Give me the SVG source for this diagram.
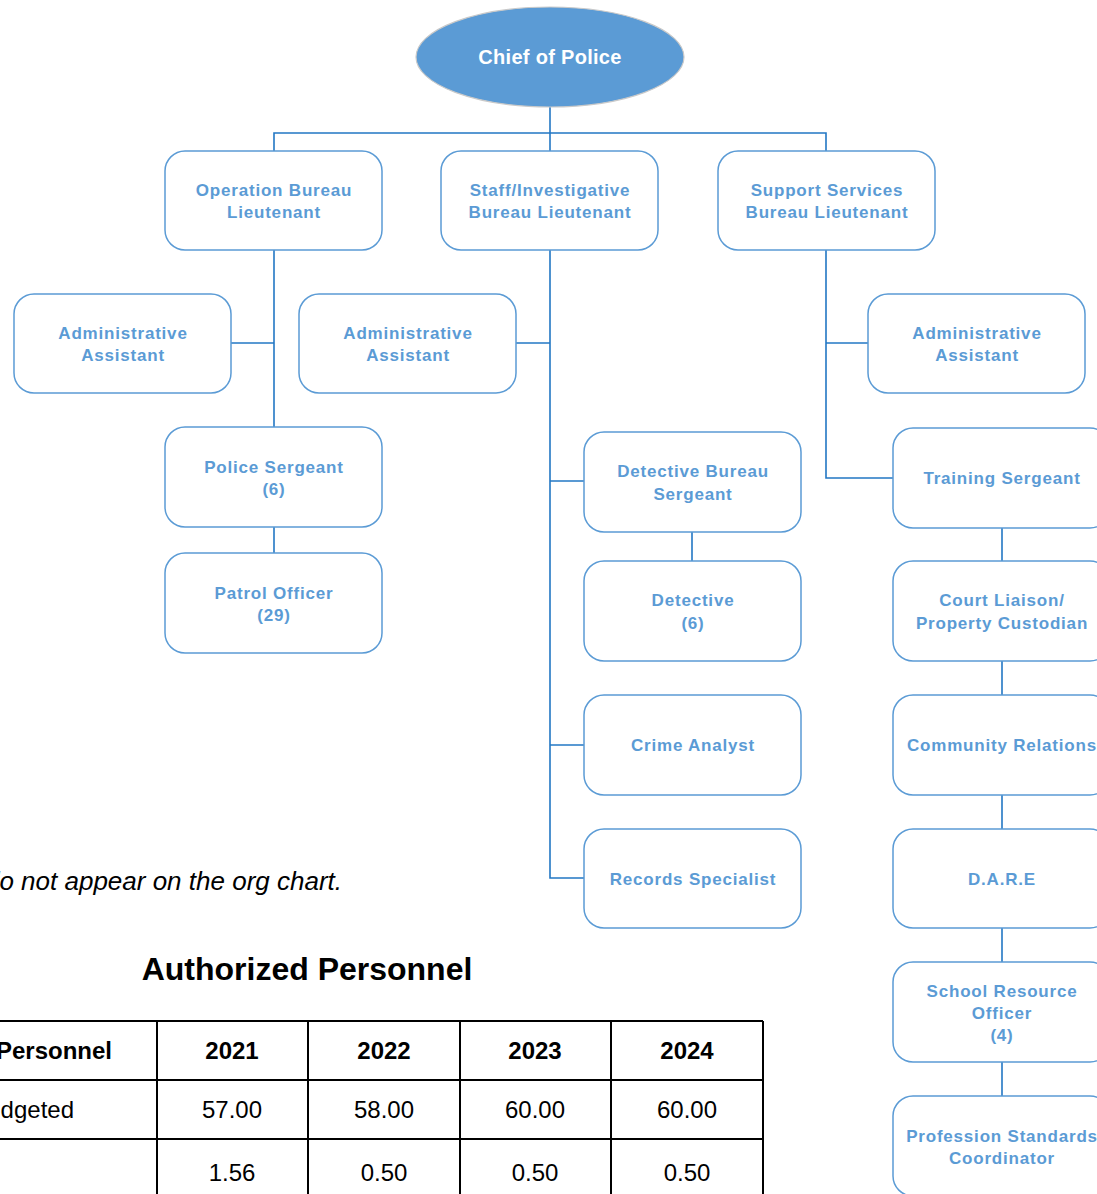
<svg xmlns="http://www.w3.org/2000/svg" width="1097" height="1194" viewBox="0 0 1097 1194">
  <style>
    .box { fill: #ffffff; stroke: #5b9bd5; stroke-width: 1.5; }
    .lbl { font-family: "Liberation Sans", Arial, sans-serif; font-weight: bold; font-size: 17px; letter-spacing: 0.8px; fill: #5b9bd5; text-anchor: middle; }
    .conn { stroke: #2277c4; stroke-width: 1.6; fill: none; }
    .note { font-family: "Liberation Sans", Arial, sans-serif; font-style: italic; font-size: 26px; fill: #000000; }
    .title { font-family: "Liberation Sans", Arial, sans-serif; font-weight: bold; font-size: 32px; fill: #000000; text-anchor: middle; }
    .th { font-family: "Liberation Sans", Arial, sans-serif; font-weight: bold; font-size: 24px; fill: #000000; text-anchor: middle; }
    .td { font-family: "Liberation Sans", Arial, sans-serif; font-size: 24px; fill: #000000; text-anchor: middle; }
    .grid { stroke: #000000; stroke-width: 2; fill: none; }
  </style>
  <rect x="0" y="0" width="1097" height="1194" fill="#ffffff"/>

  <!-- connectors -->
  <g id="connectors">
    <path class="conn" d="M550 107 V151"/>
    <path class="conn" d="M274 151 V133 H826 V151"/>
    <!-- operation bureau branch -->
    <path class="conn" d="M274 250 V427"/>
    <path class="conn" d="M231 343 H274"/>
    <path class="conn" d="M274 527 V553"/>
    <!-- staff / investigative branch -->
    <path class="conn" d="M550 250 V878 H584"/>
    <path class="conn" d="M516 343 H550"/>
    <path class="conn" d="M550 481 H584"/>
    <path class="conn" d="M550 745 H584"/>
    <path class="conn" d="M692 532 V561"/>
    <!-- support services branch -->
    <path class="conn" d="M826 250 V478 H893"/>
    <path class="conn" d="M826 343 H868"/>
    <path class="conn" d="M1002 528 V561"/>
    <path class="conn" d="M1002 661 V695"/>
    <path class="conn" d="M1002 795 V829"/>
    <path class="conn" d="M1002 928 V962"/>
    <path class="conn" d="M1002 1062 V1096"/>
  </g>

  <g id="chief">
    <ellipse cx="550" cy="57" rx="134" ry="50" fill="#5b9bd5" stroke="#c9c9c9" stroke-width="1.2"/>
    <text x="550" y="64" font-family="Liberation Sans, Arial, sans-serif" font-weight="bold" font-size="20" letter-spacing="0.3" fill="#ffffff" text-anchor="middle">Chief of Police</text>
  </g>

  <g id="operation-lt">
    <rect class="box" x="165" y="151" width="217" height="99" rx="20"/>
    <text class="lbl" x="274" y="196">Operation Bureau</text>
    <text class="lbl" x="274" y="218">Lieutenant</text>
  </g>
  <g id="staff-lt">
    <rect class="box" x="441" y="151" width="217" height="99" rx="20"/>
    <text class="lbl" x="550" y="196">Staff/Investigative</text>
    <text class="lbl" x="550" y="218">Bureau Lieutenant</text>
  </g>
  <g id="support-lt">
    <rect class="box" x="718" y="151" width="217" height="99" rx="20"/>
    <text class="lbl" x="827" y="196">Support Services</text>
    <text class="lbl" x="827" y="218">Bureau Lieutenant</text>
  </g>

  <g id="admin-ops">
    <rect class="box" x="14" y="294" width="217" height="99" rx="20"/>
    <text class="lbl" x="123" y="339">Administrative</text>
    <text class="lbl" x="123" y="361">Assistant</text>
  </g>
  <g id="admin-staff">
    <rect class="box" x="299" y="294" width="217" height="99" rx="20"/>
    <text class="lbl" x="408" y="339">Administrative</text>
    <text class="lbl" x="408" y="361">Assistant</text>
  </g>
  <g id="admin-support">
    <rect class="box" x="868" y="294" width="217" height="99" rx="20"/>
    <text class="lbl" x="977" y="339">Administrative</text>
    <text class="lbl" x="977" y="361">Assistant</text>
  </g>

  <g id="police-sergeant">
    <rect class="box" x="165" y="427" width="217" height="100" rx="20"/>
    <text class="lbl" x="274" y="473">Police Sergeant</text>
    <text class="lbl" x="274" y="495">(6)</text>
  </g>
  <g id="patrol-officer">
    <rect class="box" x="165" y="553" width="217" height="100" rx="20"/>
    <text class="lbl" x="274" y="599">Patrol Officer</text>
    <text class="lbl" x="274" y="621">(29)</text>
  </g>

  <g id="detective-sergeant">
    <rect class="box" x="584" y="432" width="217" height="100" rx="20"/>
    <text class="lbl" x="693" y="477">Detective Bureau</text>
    <text class="lbl" x="693" y="500">Sergeant</text>
  </g>
  <g id="detective">
    <rect class="box" x="584" y="561" width="217" height="100" rx="20"/>
    <text class="lbl" x="693" y="606">Detective</text>
    <text class="lbl" x="693" y="629">(6)</text>
  </g>
  <g id="crime-analyst">
    <rect class="box" x="584" y="695" width="217" height="100" rx="20"/>
    <text class="lbl" x="693" y="751">Crime Analyst</text>
  </g>
  <g id="records-specialist">
    <rect class="box" x="584" y="829" width="217" height="99" rx="20"/>
    <text class="lbl" x="693" y="885">Records Specialist</text>
  </g>

  <g id="training-sergeant">
    <rect class="box" x="893" y="428" width="217" height="100" rx="20"/>
    <text class="lbl" x="1002" y="484">Training Sergeant</text>
  </g>
  <g id="court-liaison">
    <rect class="box" x="893" y="561" width="217" height="100" rx="20"/>
    <text class="lbl" x="1002" y="606">Court Liaison/</text>
    <text class="lbl" x="1002" y="629">Property Custodian</text>
  </g>
  <g id="community-relations">
    <rect class="box" x="893" y="695" width="217" height="100" rx="20"/>
    <text class="lbl" x="1002" y="751">Community Relations</text>
  </g>
  <g id="dare">
    <rect class="box" x="893" y="829" width="217" height="99" rx="20"/>
    <text class="lbl" x="1002" y="885">D.A.R.E</text>
  </g>
  <g id="school-resource">
    <rect class="box" x="893" y="962" width="217" height="100" rx="20"/>
    <text class="lbl" x="1002" y="997">School Resource</text>
    <text class="lbl" x="1002" y="1019">Officer</text>
    <text class="lbl" x="1002" y="1041">(4)</text>
  </g>
  <g id="profession-standards">
    <rect class="box" x="893" y="1096" width="217" height="100" rx="20"/>
    <text class="lbl" x="1002" y="1142">Profession Standards</text>
    <text class="lbl" x="1002" y="1164">Coordinator</text>
  </g>

  <!-- footnote and personnel table -->
  <text class="note" x="342" y="890" text-anchor="end">do not appear on the org chart.</text>
  <text class="title" x="307" y="980">Authorized Personnel</text>

  <g id="personnel-table">
    <path class="grid" d="M-5 1021 H763 M-5 1080 H763 M-5 1139 H763"/>
    <path class="grid" d="M157 1021 V1194 M308 1021 V1194 M460 1021 V1194 M611 1021 V1194 M763 1021 V1194"/>
    <text class="th" x="-4" y="1059" style="text-anchor:start">Personnel</text>
    <text class="th" x="232" y="1059">2021</text>
    <text class="th" x="384" y="1059">2022</text>
    <text class="th" x="535" y="1059">2023</text>
    <text class="th" x="687" y="1059">2024</text>
    <text class="td" x="74" y="1118" style="text-anchor:end">Budgeted</text>
    <text class="td" x="232" y="1118">57.00</text>
    <text class="td" x="384" y="1118">58.00</text>
    <text class="td" x="535" y="1118">60.00</text>
    <text class="td" x="687" y="1118">60.00</text>
    <text class="td" x="232" y="1181">1.56</text>
    <text class="td" x="384" y="1181">0.50</text>
    <text class="td" x="535" y="1181">0.50</text>
    <text class="td" x="687" y="1181">0.50</text>
  </g>
</svg>
